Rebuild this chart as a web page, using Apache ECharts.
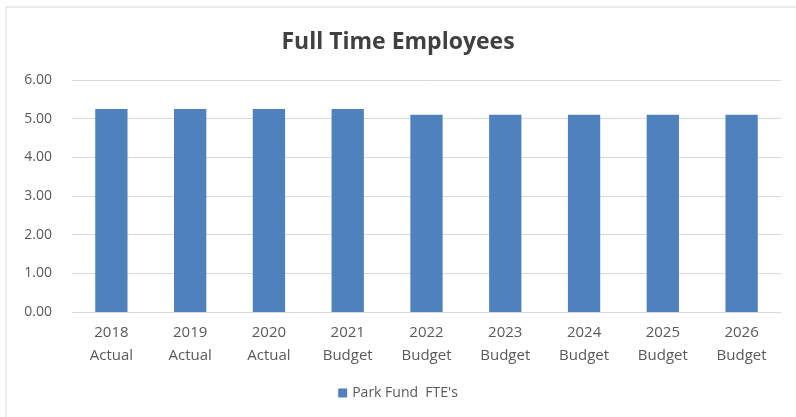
<!DOCTYPE html>
<html>
<head>
<meta charset="utf-8">
<script src="https://cdn.jsdelivr.net/npm/echarts@6/dist/echarts.min.js"></script>
<style>
  html, body { margin: 0; padding: 0; background: #fff; }
  #chart { width: 796px; height: 417px; }
</style>
</head>
<body>
<div id="chart"></div>
<script>
// data
var years = ['2018', '2019', '2020', '2021', '2022', '2023', '2024', '2025', '2026']
var kinds = ['Actual', 'Actual', 'Actual', 'Budget', 'Budget', 'Budget', 'Budget', 'Budget', 'Budget']
var fte = [5.25, 5.25, 5.25, 5.25, 5.10, 5.10, 5.10, 5.10, 5.10]
var seriesName = "Park Fund  FTE's"

var categories = years.map(function (y, i) { return y + '\n' + kinds[i] })

var chart = echarts.init(document.getElementById('chart'))
var font = '"Open Sans", "Liberation Sans", sans-serif'

chart.setOption({
  animation: false,
  title: {
    text: 'Full Time Employees',
    left: 'center',
    top: 26,
    textStyle: { fontFamily: font, fontSize: 23, fontWeight: 'bold', color: '#404040' }
  },
  legend: {
    bottom: 12,
    left: 'center',
    itemWidth: 9,
    itemHeight: 9,
    icon: 'rect',
    textStyle: { fontFamily: font, fontSize: 14, color: '#595959' },
    data: [seriesName]
  },
  grid: { left: 72, right: 15, top: 80, bottom: 105, containLabel: false },
  xAxis: {
    type: 'category',
    data: categories,
    axisTick: { show: false },
    axisLine: { lineStyle: { color: '#d9d9d9' } },
    axisLabel: { fontFamily: font, fontSize: 15, color: '#595959', lineHeight: 23, margin: 9 }
  },
  yAxis: {
    type: 'value',
    min: 0,
    max: 6,
    interval: 1,
    axisLabel: {
      fontFamily: font, fontSize: 14, color: '#595959', margin: 20,
      formatter: function (v) { return v.toFixed(2) }
    },
    splitLine: { lineStyle: { color: '#d9d9d9' } }
  },
  series: [{
    name: seriesName,
    type: 'bar',
    data: fte,
    barCategoryGap: '59%',
    itemStyle: { color: '#4f81bd' }
  }],
  graphic: [{
    type: 'polyline',
    shape: { points: [[6, 417], [6, 7], [796, 7]] },
    style: { stroke: '#d9d9d9', fill: null, lineWidth: 1 }
  }]
})
</script>
</body>
</html>
